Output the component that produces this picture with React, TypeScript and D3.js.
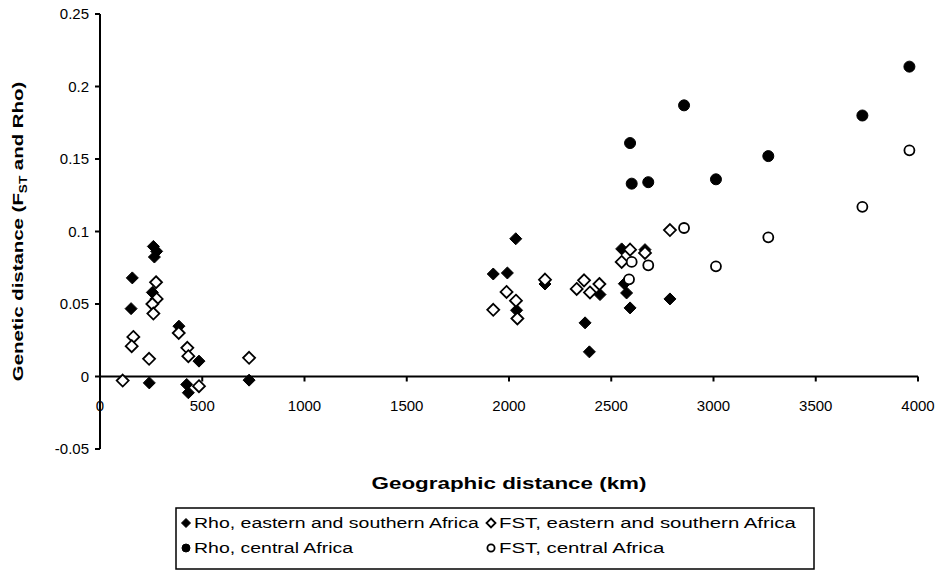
import React from "react";
import * as d3 from "d3";

const rhoESx = [261, 277, 266, 158, 256, 152, 386, 484, 241, 424, 432, 729, 2033, 1923, 1992, 2037, 2176, 2372, 2393, 2445, 2551, 2665, 2564, 2575, 2592, 2787];
const rhoESy = [0.0897, 0.0863, 0.0824, 0.068, 0.058, 0.0468, 0.0347, 0.0106, -0.0044, -0.0055, -0.0112, -0.0025, 0.095, 0.0707, 0.0714, 0.0457, 0.0638, 0.037, 0.017, 0.0565, 0.088, 0.0875, 0.064, 0.0576, 0.0473, 0.0535];

const fstESx = [274, 277, 256, 261, 163, 155, 240, 385, 427, 432, 729, 111, 484, 1923, 1988, 2034, 2041, 2176, 2331, 2367, 2396, 2442, 2551, 2592, 2665, 2787];
const fstESy = [0.065, 0.0535, 0.05, 0.0434, 0.0273, 0.0209, 0.0122, 0.03, 0.0198, 0.014, 0.0129, -0.0028, -0.0067, 0.046, 0.0583, 0.0523, 0.04, 0.0668, 0.0604, 0.0663, 0.058, 0.0638, 0.079, 0.0875, 0.0852, 0.101];

const rhoCx = [2592, 2600, 2681, 2856, 3012, 3268, 3728, 3958];
const rhoCy = [0.161, 0.133, 0.134, 0.187, 0.136, 0.152, 0.18, 0.2137];

const fstCx = [2587, 2600, 2681, 2856, 3012, 3268, 3728, 3958];
const fstCy = [0.067, 0.079, 0.0767, 0.1024, 0.076, 0.096, 0.117, 0.156];

const xTicks = [0, 500, 1000, 1500, 2000, 2500, 3000, 3500, 4000];
const yTicks = [-0.05, 0, 0.05, 0.1, 0.15, 0.2, 0.25];
const yTickLabels = ["-0.05", "0", "0.05", "0.1", "0.15", "0.2", "0.25"];

const legendLabels = [
  "Rho, eastern and southern Africa",
  "FST, eastern and southern Africa",
  "Rho, central Africa",
  "FST, central Africa",
];

const FONT = "'Liberation Sans', Arial, Helvetica, sans-serif";

function Diamond({ cx, cy, r, filled }: { cx: number; cy: number; r: number; filled: boolean }) {
  const p = `M${cx},${cy - r}L${cx + r},${cy}L${cx},${cy + r}L${cx - r},${cy}Z`;
  return <path d={p} fill={filled ? "#000" : "#fff"} stroke="#000" strokeWidth={filled ? 1 : 1.8} />;
}

function Circle({ cx, cy, r, filled }: { cx: number; cy: number; r: number; filled: boolean }) {
  return <circle cx={cx} cy={cy} r={r} fill={filled ? "#000" : "#fff"} stroke="#000" strokeWidth={filled ? 1 : 1.8} />;
}

function WideText({ x, y, children, anchor, size, bold, stretch }: any) {
  return (
    <g transform={`translate(${x},${y}) scale(${stretch},1)`}>
      <text x={0} y={0} dy="0.35em" textAnchor={anchor || "start"} fontSize={size} fontWeight={bold ? "bold" : "normal"}>{children}</text>
    </g>
  );
}

export default function App() {
  const x = d3.scaleLinear().domain([0, 4000]).range([100, 918]);
  const y = d3.scaleLinear().domain([-0.05, 0.25]).range([449, 14]);
  const y0 = y(0);

  const legX1 = 176, legY = 508, legW = 638, legH = 61;
  const col1 = 186, col2 = 491;
  const row1 = 523, row2 = 548;

  return (
    <svg width={950} height={573} style={{ position: "absolute", left: 0, top: 0, background: "#fff" }} fontFamily={FONT}>
      <rect x={0} y={0} width={950} height={573} fill="#fff" />
      {/* y axis */}
      <line x1={x(0)} x2={x(0)} y1={y(0.25)} y2={y(-0.05)} stroke="#000" strokeWidth={2} />
      {yTicks.map((t, i) => (
        <g key={"yt" + i}>
          <line x1={x(0) - 5} x2={x(0)} y1={y(t)} y2={y(t)} stroke="#000" strokeWidth={2} />
          <text x={x(0) - 11} y={y(t)} dy="0.35em" textAnchor="end" fontSize={15}>{yTickLabels[i]}</text>
        </g>
      ))}
      {/* x axis */}
      <line x1={x(0)} x2={x(4000)} y1={y0} y2={y0} stroke="#000" strokeWidth={2} />
      {xTicks.map((t, i) => (
        <g key={"xt" + i}>
          <line x1={x(t)} x2={x(t)} y1={y0} y2={y0 + 5} stroke="#000" strokeWidth={2} />
          <text x={x(t)} y={y0 + 34} textAnchor="middle" fontSize={15}>{String(t)}</text>
        </g>
      ))}
      {/* axis titles */}
      <WideText x={509} y={483} anchor="middle" size={16} bold stretch={1.4}>Geographic distance (km)</WideText>
      <g transform={`translate(18,${y(0.1)}) rotate(-90) scale(1.36,1)`}>
        <text x={0} y={0} dy="0.35em" textAnchor="middle" fontSize={15} fontWeight="bold">
          Genetic distance (F<tspan fontSize={10} dy={4}>ST</tspan><tspan dy={-4}> and Rho)</tspan>
        </text>
      </g>

      {/* data */}
      {rhoESx.map((v, i) => <Diamond key={"a" + i} cx={x(v)} cy={y(rhoESy[i])} r={6} filled={true} />)}
      {fstESx.map((v, i) => <Diamond key={"b" + i} cx={x(v)} cy={y(fstESy[i])} r={6} filled={false} />)}
      {rhoCx.map((v, i) => <Circle key={"c" + i} cx={x(v)} cy={y(rhoCy[i])} r={5.5} filled={true} />)}
      {fstCx.map((v, i) => <Circle key={"d" + i} cx={x(v)} cy={y(fstCy[i])} r={5} filled={false} />)}

      {/* legend */}
      <rect x={legX1} y={legY} width={legW} height={legH} fill="#fff" stroke="#000" strokeWidth={1.5} />
      <Diamond cx={col1} cy={row1} r={4.5} filled={true} />
      <WideText x={col1 + 8} y={row1} size={15} stretch={1.3}>{legendLabels[0]}</WideText>
      <Diamond cx={col2} cy={row1} r={4.5} filled={false} />
      <WideText x={col2 + 8} y={row1} size={15} stretch={1.36}>{legendLabels[1]}</WideText>
      <Circle cx={col1} cy={row2} r={4} filled={true} />
      <WideText x={col1 + 8} y={row2} size={15} stretch={1.3}>{legendLabels[2]}</WideText>
      <Circle cx={col2} cy={row2} r={3.6} filled={false} />
      <WideText x={col2 + 8} y={row2} size={15} stretch={1.36}>{legendLabels[3]}</WideText>
    </svg>
  );
}
